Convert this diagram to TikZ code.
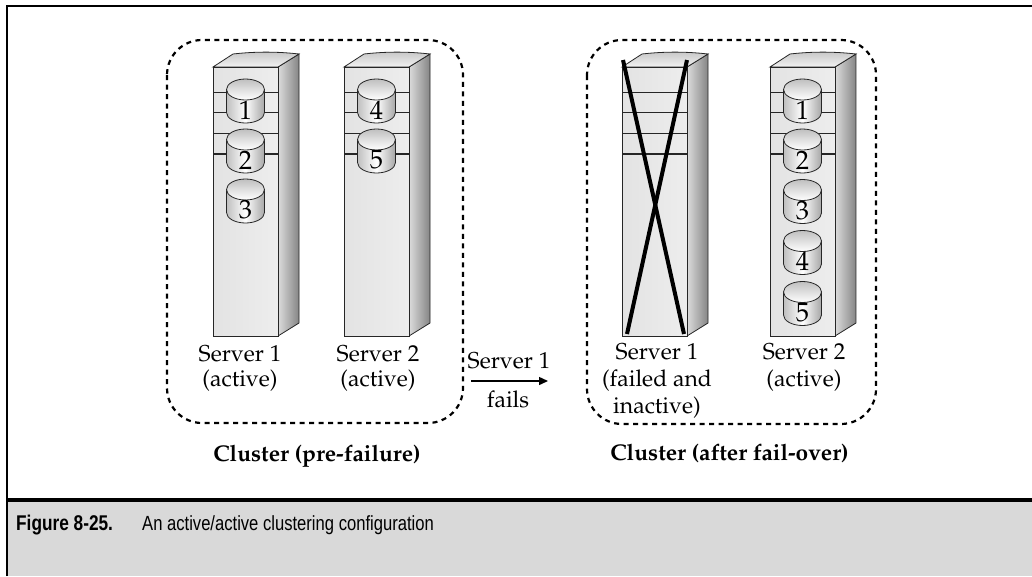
\documentclass[tikz,border=0pt]{standalone}
\usepackage[T1]{fontenc}
\usepackage{fontspec}
\usetikzlibrary{arrows.meta}
\newfontfamily\capsans[FakeStretch=0.81]{Liberation Sans}
\newcommand\palfont{\fontencoding{T1}\fontfamily{ppl}\selectfont}
\definecolor{capgray}{HTML}{D9D9D9}

\tikzset{
  x=1pt, y=-1pt,
  outline/.style={draw=black!85, line width=0.8pt},
  frontface/.style={outline, left color=black!11, right color=black!7},
  sideface/.style={outline, left color=black!14, right color=black!48},
  topface/.style={outline, top color=black!22, bottom color=black!5},
  shelf/.style={draw=black!85, line width=0.8pt},
  cluster/.style={draw=black, line width=2.2pt, dash pattern=on 5pt off 4.5pt, rounded corners=35pt},
  lbl/.style={font=\palfont\fontsize{23}{27}\selectfont, inner sep=0pt, anchor=base},
  clbl/.style={font=\palfont\bfseries\fontsize{22.7}{26}\selectfont, inner sep=0pt, anchor=base},
  digit/.style={font=\palfont\fontsize{26.5}{30}\selectfont, inner sep=0pt},
  cross/.style={draw=black, line width=4pt},
  flow/.style={draw=black, line width=1.4pt, -{Triangle[length=9pt, width=8pt]}},
  capbold/.style={font=\capsans\bfseries\fontsize{21.3}{25}\selectfont, inner sep=0pt, anchor=base west},
  captext/.style={font=\capsans\fontsize{20.5}{24}\selectfont, inner sep=0pt, anchor=base west},
  % tower server: origin at the top-left corner of the front face
  server/.pic={
    \path[sideface] (65,0) -- (86,-13) -- (86,256) -- (65,269) -- cycle;
    \path[topface] (0,0) -- (20,-13) .. controls (42,-15.5) and (64,-15.5) .. (86,-13) -- (65,0) -- cycle;
    \path[frontface] (0,0) rectangle (65,269);
    \foreach \s in {25,45,66} \draw[shelf] (0,\s) -- (65,\s);
    \draw[shelf, line width=1.4pt] (0,87) -- (65,87);
  },
  % disk cylinder: origin at the top centre of the disk
  disk/.pic={
    \path[outline, left color=black!25, right color=black!35, middle color=white]
      (-19,10.5) -- (-19,33.5) arc[start angle=180, end angle=360, x radius=19pt, y radius=10.5pt]
      -- (19,10.5) -- cycle;
    \path[outline, top color=black!25, bottom color=white]
      (0,10.5) ellipse[x radius=19pt, y radius=10.5pt];
    \node[digit] (num) at (0,31) {#1};
  }
}

\begin{document}
\begin{tikzpicture}
\useasboundingbox (0,0) rectangle (1032,576);

% page frame and caption band
\fill[capgray] (7,502) rectangle (1032,576);
\draw[line width=2.5pt] (7,576) -- (7,6) -- (1032,6);
\draw[line width=4pt] (7,500) -- (1032,500);

% cluster outlines
\draw[cluster] (167,40) rectangle (463,423);
\draw[cluster] (587,40) rectangle (876,424);

% cluster before failure
\pic (srvA) at (213,67) {server};
\pic (srvB) at (344,67) {server};
\pic (dA1) at (245.5,79) {disk=1};
\pic (dA2) at (245.5,129) {disk=2};
\pic (dA3) at (245.5,179) {disk=3};
\pic (dB4) at (376.5,79) {disk=4};
\pic (dB5) at (376.5,129) {disk=5};

\node[lbl] (lA1) at (240,361) {Server 1};
\node[lbl] (lA2) at (240,386) {(active)};
\node[lbl] (lB1) at (378,361) {Server 2};
\node[lbl] (lB2) at (378,386) {(active)};
\node[clbl] (cA) at (317,461) {Cluster (pre-failure)};

% failure transition
\coordinate (fs) at (471,381);
\coordinate (fe) at (548,381);
\draw[flow] (fs) -- (fe);
\node[lbl] (t1) at (509,368) {Server 1};
\node[lbl] (t2) at (508,407) {fails};

% cluster after fail-over
\pic (srvC) at (622,67) {server};
\pic (srvD) at (770,67) {server};
\coordinate (xa) at (623,60);
\coordinate (xb) at (684,334);
\coordinate (xc) at (687,60);
\coordinate (xd) at (627,334);
\draw[cross] (xa) -- (xb);
\draw[cross] (xc) -- (xd);
\pic (dD1) at (802.5,79) {disk=1};
\pic (dD2) at (802.5,129) {disk=2};
\pic (dD3) at (802.5,179.5) {disk=3};
\pic (dD4) at (802.5,230.5) {disk=4};
\pic (dD5) at (802.5,281.5) {disk=5};

\node[lbl] (lC1) at (657,359) {Server 1};
\node[lbl] (lC2) at (657,386) {(failed and};
\node[lbl] (lC3) at (657,413) {inactive)};
\node[lbl] (lD1) at (804,359) {Server 2};
\node[lbl] (lD2) at (804,386) {(active)};
\node[clbl] (cB) at (729.5,460) {Cluster (after fail-over)};

% caption
\node[capbold] (fignum) at (16,530) {Figure 8-25.};
\node[captext] (figtitle) at (142,530) {An active/active clustering configuration};
\end{tikzpicture}
\end{document}
